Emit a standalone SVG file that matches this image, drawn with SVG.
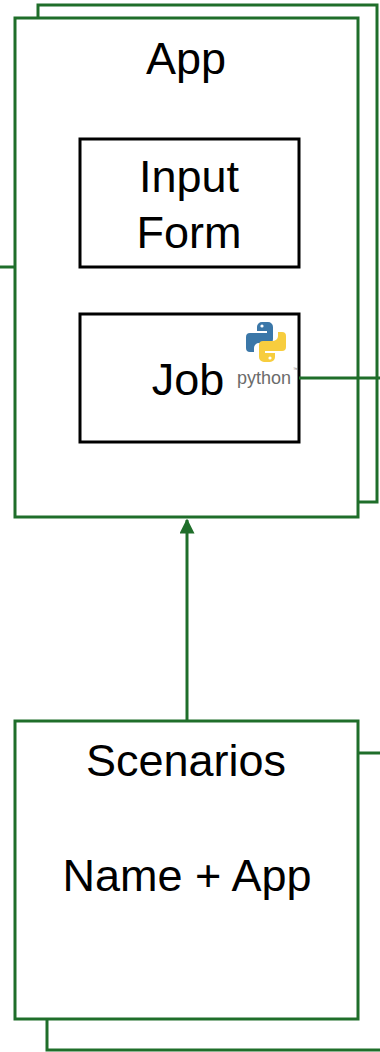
<svg xmlns="http://www.w3.org/2000/svg" width="380" height="1052" viewBox="0 0 380 1052">
<style>
.g{fill:#ffffff;stroke:#1f6e2a;stroke-width:3}
.b{fill:#ffffff;stroke:#000000;stroke-width:3}
.t{font-family:"Liberation Sans",Arial,sans-serif;font-size:45px;fill:#000000;text-anchor:middle}
.c{fill:none;stroke:#1f6e2a;stroke-width:3}
</style>
<defs>
<marker id="ah" markerWidth="5" markerHeight="5" refX="4.5" refY="2.5" orient="auto" markerUnits="strokeWidth">
<path d="M0,0 L5,2.5 L0,5 Z" fill="#1f6e2a"/>
</marker>
</defs>
<rect width="380" height="1052" fill="#ffffff"/>
<g id="app">
<rect class="g" x="38" y="5" width="339" height="497"/>
<rect class="g" x="15" y="18" width="343" height="499"/>
<text class="t" x="186" y="74">App</text>
</g>
<g id="input-form">
<rect class="b" x="80" y="139" width="219" height="128"/>
<text class="t" x="189" y="192">Input</text>
<text class="t" x="189" y="248">Form</text>
</g>
<g id="job">
<rect class="b" x="80" y="314" width="219" height="128"/>
<text class="t" x="188" y="395">Job</text>
<g id="python-logo" transform="translate(266,342)">
<path d="M -4 -20 H 2 A 5 5 0 0 1 7 -15 V -3 A 4 4 0 0 1 3 1 H -7 A 5 5 0 0 0 -12 6 V 10 H -16 A 4 4 0 0 1 -20 6 V -5 A 4 4 0 0 1 -16 -9 H 1 V -11 H -9 V -15 A 5 5 0 0 1 -4 -20 Z" fill="#3b77a8"/>
<path d="M -4 -20 H 2 A 5 5 0 0 1 7 -15 V -3 A 4 4 0 0 1 3 1 H -7 A 5 5 0 0 0 -12 6 V 10 H -16 A 4 4 0 0 1 -20 6 V -5 A 4 4 0 0 1 -16 -9 H 1 V -11 H -9 V -15 A 5 5 0 0 1 -4 -20 Z" fill="#f7cd3e" transform="rotate(180)"/>
<circle cx="-4" cy="-16" r="1.6" fill="#ffffff"/>
<circle cx="4" cy="16" r="1.6" fill="#ffffff"/>
</g>
<text x="237" y="384" font-family="'Liberation Sans',Arial,sans-serif" font-size="18" fill="#6b6b6b">python</text>
<text x="293" y="371" font-family="'Liberation Sans',Arial,sans-serif" font-size="5" fill="#6b6b6b">™</text>
</g>
<g id="scenarios">
<rect class="g" x="47" y="753" width="340" height="297"/>
<rect class="g" x="15" y="721" width="343" height="298"/>
<text class="t" x="186" y="776">Scenarios</text>
<text class="t" x="187" y="891">Name + App</text>
</g>
<g id="connectors">
<line class="c" x1="0" y1="267" x2="15" y2="267"/>
<line class="c" x1="299" y1="378" x2="380" y2="378"/>
<line class="c" x1="187" y1="720" x2="187" y2="520" marker-end="url(#ah)"/>
</g>
</svg>
